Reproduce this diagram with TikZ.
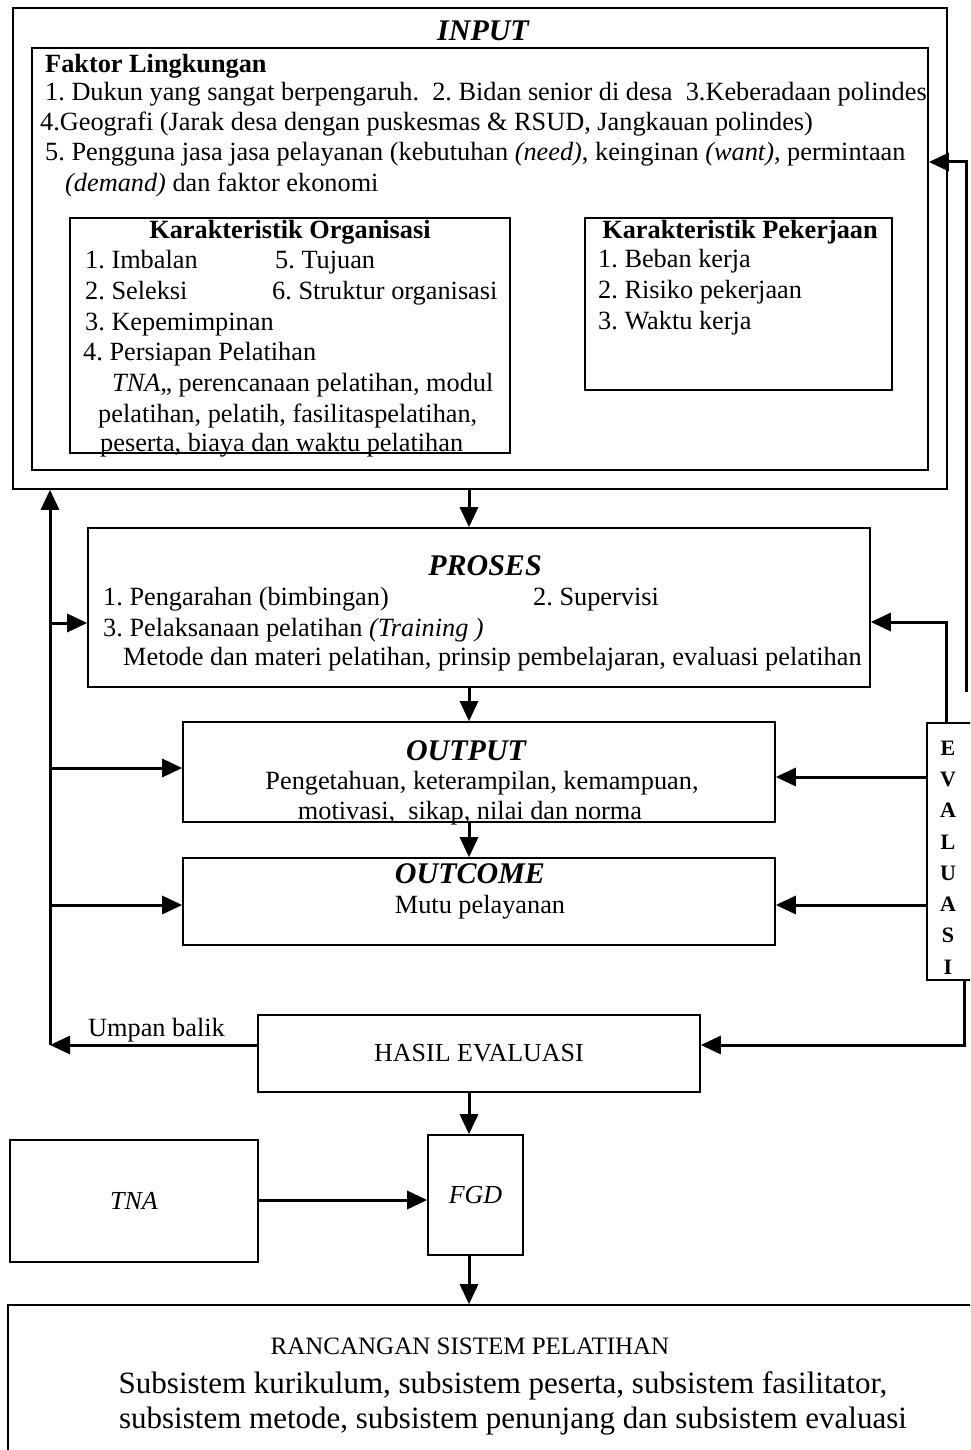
\documentclass[tikz,border=0pt]{standalone}
\usepackage{fontspec}
\setmainfont{Liberation Serif}
\usetikzlibrary{arrows.meta}
\frenchspacing
\begin{document}
\begin{tikzpicture}[x=1pt,y=-1pt,
  box/.style={draw, line width=1.6pt, rectangle, inner sep=0pt},
  txt/.style={inner sep=0pt, anchor=base west, font=\fontsize{26.3}{30}\selectfont},
  ctxt/.style={inner sep=0pt, anchor=base, font=\fontsize{26.3}{30}\selectfont},
  head/.style={inner sep=0pt, anchor=base, font=\fontsize{30}{34}\selectfont\bfseries\itshape},
  flow/.style={line width=3pt, -{Triangle[length=20pt,width=18pt]}},
]
\useasboundingbox (0,0) rectangle (970,1450);
\clip (0,0) rectangle (970,1450);

% ---------- boxes ----------
\node[box, minimum width=934pt, minimum height=481pt] (inp) at (480,248.5) {};
\node[box, minimum width=896pt, minimum height=422pt] (fl)  at (480,259) {};
\node[box, minimum width=440pt, minimum height=235pt] (ko)  at (290,335.5) {};
\node[box, minimum width=307pt, minimum height=172pt] (kp)  at (738.5,304) {};
\node[box, minimum width=782pt, minimum height=159pt] (pro) at (479,607.5) {};
\node[box, minimum width=592pt, minimum height=100pt] (out) at (479,772) {};
\node[box, minimum width=592pt, minimum height=87pt]  (oc)  at (479,901.5) {};
\node[box, minimum width=48pt,  minimum height=257pt] (ev)  at (951,851.5) {};
\node[box, minimum width=442pt, minimum height=77pt, font=\fontsize{26}{30}\selectfont] (has) at (479,1053.5) {HASIL EVALUASI};
\node[box, minimum width=248pt, minimum height=122pt, font=\fontsize{26}{30}\selectfont\itshape] (tna) at (134,1201) {TNA};
\node[box, minimum width=95pt,  minimum height=120pt, font=\fontsize{26}{30}\selectfont\itshape] (fgd) at (475.5,1195) {FGD};
\node[box, minimum width=982pt, minimum height=165pt] (ran) at (499,1387.5) {};

% ---------- INPUT ----------
\node[head] (hin) at (483,41) {INPUT};
\node[txt, font=\fontsize{26.3}{30}\selectfont\bfseries] (fl0) at (45,73) {Faktor Lingkungan};
\node[txt] (fl1) at (45,101) {1. Dukun yang sangat berpengaruh.\ \ 2. Bidan senior di desa\ \ 3.Keberadaan polindes};
\node[txt] (fl2) at (40,131) {4.Geografi (Jarak desa dengan puskesmas \& RSUD, Jangkauan polindes)};
\node[txt] (fl3) at (45,161) {5. Pengguna jasa jasa pelayanan (kebutuhan \textit{(need)}, keinginan \textit{(want)}, permintaan};
\node[txt] (fl4) at (65,192) {\textit{(demand)} dan faktor ekonomi};

\node[ctxt, font=\fontsize{26.3}{30}\selectfont\bfseries] (ko0) at (290,238) {Karakteristik Organisasi};
\node[txt] (ko1) at (85,268) {1. Imbalan};
\node[txt] (ko5) at (275,268) {5. Tujuan};
\node[txt] (ko2) at (85,299) {2. Seleksi};
\node[txt] (ko6) at (272,299) {6. Struktur organisasi};
\node[txt] (ko3) at (85,330) {3. Kepemimpinan};
\node[txt] (ko4) at (83,360) {4. Persiapan Pelatihan};
\node[txt] (ko7) at (112,391) {\textit{TNA},, perencanaan pelatihan, modul};
\node[txt] (ko8) at (98,422) {pelatihan, pelatih, fasilitaspelatihan,};
\node[txt] (ko9) at (100,451) {peserta, biaya dan waktu pelatihan};

\node[ctxt, font=\fontsize{26.3}{30}\selectfont\bfseries] (kp0) at (740,238) {Karakteristik Pekerjaan};
\node[txt] (kp1) at (598,267) {1. Beban kerja};
\node[txt] (kp2) at (598,298) {2. Risiko pekerjaan};
\node[txt] (kp3) at (598,329) {3. Waktu kerja};

% ---------- PROSES ----------
\node[head] (hpr) at (485,575) {PROSES};
\node[txt] (pr1) at (103,605) {1. Pengarahan (bimbingan)};
\node[txt] (pr2) at (533,605) {2. Supervisi};
\node[txt] (pr3) at (103,636) {3. Pelaksanaan pelatihan \textit{(Training )}};
\node[txt] (pr4) at (123,665) {Metode dan materi pelatihan, prinsip pembelajaran, evaluasi pelatihan};

% ---------- OUTPUT / OUTCOME ----------
\node[head] (hou) at (466,760) {OUTPUT};
\node[ctxt] (ou1) at (482,789) {Pengetahuan, keterampilan, kemampuan,};
\node[ctxt] (ou2) at (470,819) {motivasi,\ \ sikap, nilai dan norma};
\node[head] (hoc) at (470,883) {OUTCOME};
\node[ctxt] (oc1) at (480,913) {Mutu pelayanan};

% ---------- EVALUASI ----------
\node[inner sep=0pt, align=center, font=\fontsize{22}{31.3}\selectfont\bfseries] (evt) at (948,857.5)
  {E\\V\\A\\L\\U\\A\\S\\I};

% ---------- RANCANGAN ----------
\node[inner sep=0pt, anchor=base, font=\fontsize{25}{30}\selectfont] (ra1) at (470,1354) {RANCANGAN SISTEM PELATIHAN};
\node[inner sep=0pt, anchor=base, font=\fontsize{31}{36}\selectfont] (ra2) at (503,1393) {Subsistem kurikulum, subsistem peserta, subsistem fasilitator,};
\node[inner sep=0pt, anchor=base, font=\fontsize{31}{36}\selectfont] (ra3) at (513,1428) {subsistem metode, subsistem penunjang dan subsistem evaluasi};

% ---------- guide coordinates ----------
\coordinate (spine) at (469,0);
\coordinate (lb) at (50,1045);
\coordinate (yPl) at (0,623);
\coordinate (yOl) at (0,768);
\coordinate (yCl) at (0,905);
\coordinate (yOr) at (0,777);
\coordinate (yCr) at (0,905);
\coordinate (yPr) at (0,622);
\coordinate (yIn) at (0,162);
\coordinate (yHas) at (0,1045);
\coordinate (yTf) at (0,1200);
\coordinate (rx1) at (946,0);
\coordinate (rx2) at (964,0);
\coordinate (rlo) at (966,692);

% ---------- main flow ----------
\draw[flow] (inp.south -| spine) -- (pro.north -| spine);
\draw[flow] (pro.south -| spine) -- (out.north -| spine);
\draw[flow] (out.south -| spine) -- (oc.north -| spine);
\draw[flow] (has.south -| spine) -- (fgd.north -| spine);
\draw[flow] (fgd.south -| spine) -- (ran.north -| spine);
\draw[flow] (tna.east |- yTf) -- (fgd.west |- yTf);

% ---------- feedback (left) ----------
\draw[flow] (has.west |- yHas) -- (lb);
\node[txt] (ub) at (88,1036) {Umpan balik};
\draw[flow] (lb) -- (inp.south -| lb);
\draw[flow] (lb |- yPl) -- (pro.west |- yPl);
\draw[flow] (lb |- yOl) -- (out.west |- yOl);
\draw[flow] (lb |- yCl) -- (oc.west |- yCl);

% ---------- evaluation (right) ----------
\draw[flow] (ev.west |- yOr) -- (out.east |- yOr);
\draw[flow] (ev.west |- yCr) -- (oc.east |- yCr);
\draw[flow] (ev.north -| rx1) |- (pro.east |- yPr);
\draw[flow] (rlo) |- (fl.east |- yIn);
\draw[flow] (ev.south -| rx2) |- (has.east |- yHas);

\end{tikzpicture}
\end{document}
